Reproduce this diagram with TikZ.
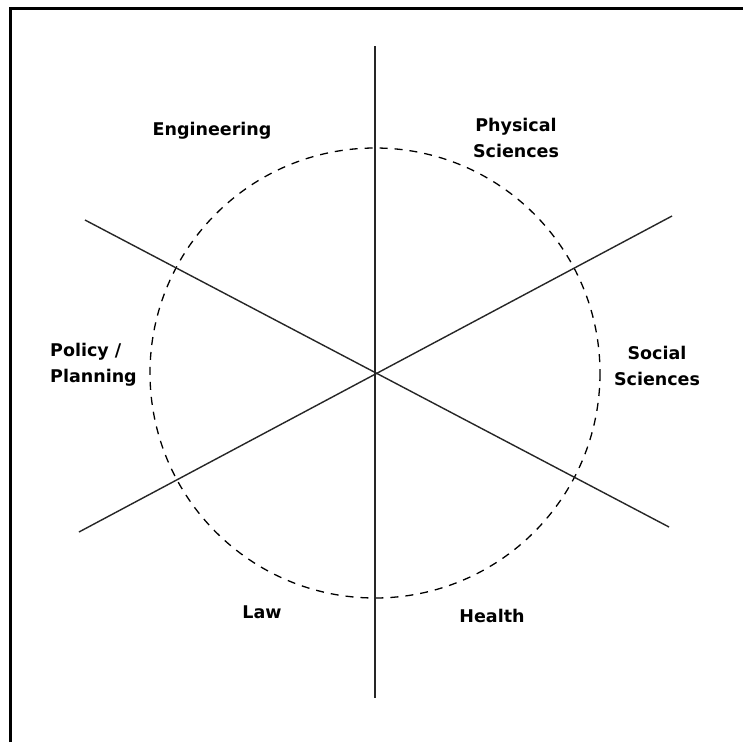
\documentclass[tikz,border=0pt]{standalone}
\usepackage{fontspec}
\setmainfont{DejaVu Sans}
\begin{document}
\begin{tikzpicture}[x=1pt,y=-1pt,
  lbl/.style={font=\bfseries\fontsize{17.5}{26}\selectfont, align=center, inner sep=0pt},
  axis/.style={line width=1.4pt, black!85},
  frame/.style={line width=3pt},
  ring/.style={dash pattern=on 8pt off 7pt, line width=1.3pt}]
\useasboundingbox (0,0) rectangle (743,742);
\fill[white] (0,0) rectangle (743,742);
\draw[frame] (10,742) -- (10,8) -- (743,8);
\coordinate (c) at (375,373);
\coordinate (vt) at (375,46);
\coordinate (vb) at (375,698);
\coordinate (ul) at (85,220);
\coordinate (lr) at (669,527);
\coordinate (ur) at (672,216);
\coordinate (ll) at (79,532);
\draw[ring] (c) circle (225);
\draw[axis, line width=1.7pt] (vt) -- (vb);
\draw[axis] (ul) -- (lr);
\draw[axis] (ll) -- (ur);
\node[lbl] (eng) at (212,131) {Engineering};
\node[lbl] (phys) at (516,138) {Physical\\Sciences};
\node[lbl, align=left, anchor=west] (pol) at (50,365) {Policy /\\Planning};
\node[lbl] (soc) at (657,366) {Social\\Sciences};
\node[lbl] (law) at (262,612) {Law};
\node[lbl] (hea) at (492,616) {Health};
\end{tikzpicture}
\end{document}
